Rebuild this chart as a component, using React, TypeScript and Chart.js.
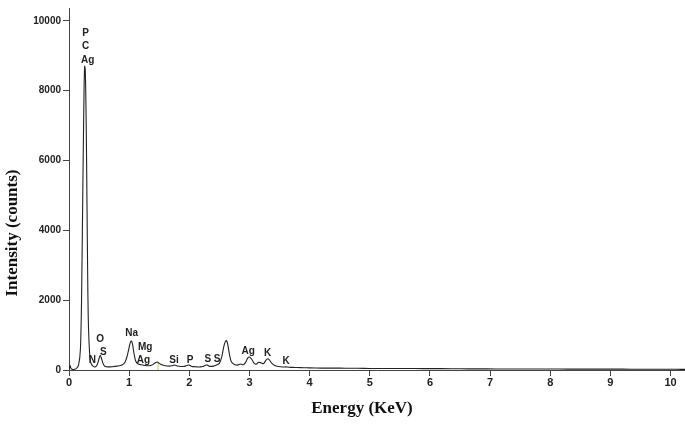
import React, { useEffect, useRef } from "react";
import { Chart, registerables } from "chart.js";

Chart.register(...registerables);

// Spectrum samples (Energy keV, Intensity counts)
const energy = [
  0.0, 0.02, 0.03, 0.05, 0.08, 0.12, 0.16, 0.19, 0.21, 0.23, 0.25, 0.26, 0.27, 0.28, 0.29, 0.3, 0.31, 0.32, 0.34, 0.36,
  0.4, 0.44, 0.47, 0.5, 0.52, 0.54, 0.57, 0.6, 0.66, 0.72, 0.8, 0.88, 0.93, 0.97, 1.0, 1.02, 1.04, 1.06, 1.08, 1.11,
  1.15, 1.2, 1.26, 1.32, 1.38, 1.43, 1.47, 1.5, 1.54, 1.6, 1.66, 1.71, 1.75, 1.8, 1.86, 1.92, 1.97, 2.0, 2.04, 2.1,
  2.16, 2.22, 2.27, 2.3, 2.34, 2.4, 2.45, 2.5, 2.54, 2.57, 2.6, 2.62, 2.64, 2.67, 2.7, 2.75, 2.8, 2.85, 2.9, 2.94,
  2.97, 3.0, 3.04, 3.08, 3.12, 3.15, 3.19, 3.23, 3.27, 3.3, 3.33, 3.37, 3.42, 3.48, 3.55, 3.6, 3.65, 3.72, 3.8, 3.9,
  4.0, 4.2, 4.4, 4.6, 4.8, 5.0, 5.3, 5.6, 5.9, 6.2, 6.5, 6.8, 7.1, 7.4, 7.7, 8.0, 8.3, 8.6, 8.9, 9.2, 9.5, 9.8, 10.1, 10.24,
];
const counts = [
  10, 120, 60, 20, 15, 40, 150, 600, 2200, 5200, 8000, 8700, 8600, 7800, 6400, 4600, 2800, 1500, 550, 220,
  110, 90, 160, 330, 420, 330, 170, 100, 90, 95, 110, 140, 220, 420, 650, 790, 830, 700, 480, 250,
  170, 150, 130, 120, 140, 200, 230, 190, 150, 120, 110, 120, 145, 115, 100, 105, 135, 140, 100, 95,
  85, 100, 135, 140, 105, 110, 140, 190, 380, 650, 820, 840, 720, 420, 230, 160, 140, 170, 150, 230,
  340, 370, 300, 190, 170, 220, 210, 180, 270, 320, 290, 200, 130, 100, 85, 90, 80, 75, 70, 65,
  60, 55, 55, 50, 48, 45, 45, 42, 40, 38, 35, 32, 30, 30, 28, 28, 26, 25, 24, 24, 22, 22, 20, 18,
];

// Marker line near 1.48 keV
const markerEnergy = [1.48, 1.48];
const markerCounts = [0, 220];

// Peak labels
const peakLabels = ["P", "C", "Ag", "O", "S", "N", "Na", "Mg", "Ag", "Si", "P", "S", "S", "Ag", "K", "K"];
const peakX = [0.275, 0.275, 0.31, 0.516, 0.57, 0.389, 1.04, 1.265, 1.236, 1.747, 2.013, 2.309, 2.46, 2.98, 3.3, 3.61];
const peakY = [9660, 9270, 8880, 868, 512, 280, 1045, 653, 280, 280, 280, 300, 317, 540, 485, 260];

const xTicks = [0, 1, 2, 3, 4, 5, 6, 7, 8, 9, 10];
const yTicks = [0, 2000, 4000, 6000, 8000, 10000];

const xTitle = "Energy (KeV)";
const yTitle = "Intensity (counts)";

export default function App() {
  const ref = useRef<HTMLCanvasElement | null>(null);

  useEffect(() => {
    document.body.style.margin = "0";
    const canvas = ref.current!;
    const labelPlugin = {
      id: "peakLabels",
      afterDatasetsDraw(chart: any) {
        const { ctx, scales } = chart;
        ctx.save();
        ctx.fillStyle = "#222";
        ctx.font = "bold 10px 'Liberation Sans', Arial, sans-serif";
        ctx.textAlign = "center";
        ctx.textBaseline = "middle";
        peakLabels.forEach((t, i) => {
          ctx.fillText(t, scales.x.getPixelForValue(peakX[i]), scales.y.getPixelForValue(peakY[i]));
        });
        // axis titles
        ctx.fillStyle = "#111";
        ctx.font = "bold 17px 'Liberation Serif', 'Times New Roman', serif";
        ctx.fillText(xTitle, 362, 409);
        ctx.save();
        ctx.translate(13, 233);
        ctx.rotate(-Math.PI / 2);
        ctx.font = "bold 17px 'Liberation Serif', 'Times New Roman', serif";
        ctx.fillText(yTitle, 0, 0);
        ctx.restore();
        ctx.restore();
      },
    };

    const chart = new Chart(canvas, {
      type: "line",
      data: {
        datasets: [
          {
            data: energy.map((x, i) => ({ x, y: counts[i] })),
            borderColor: "#222",
            borderWidth: 1.1,
            pointRadius: 0,
            tension: 0.3,
            fill: false,
          },
          {
            data: markerEnergy.map((x, i) => ({ x, y: markerCounts[i] })),
            borderColor: "#c8c860",
            borderWidth: 1,
            pointRadius: 0,
            fill: false,
          },
        ],
      },
      options: {
        animation: false,
        responsive: false,
        maintainAspectRatio: false,
        layout: { padding: 0 },
        plugins: { legend: { display: false }, tooltip: { enabled: false } },
        scales: {
          x: {
            type: "linear",
            min: 0,
            max: 10.24,
            afterBuildTicks: (s: any) => {
              s.ticks = xTicks.map((v) => ({ value: v }));
            },
            afterFit: (s: any) => {
              s.height = 55;
            },
            ticks: {
              color: "#222",
              font: { family: "'Liberation Sans', Arial, sans-serif", size: 11, weight: "bold" },
              padding: 0,
              maxRotation: 0,
              autoSkip: false,
              callback: (v: any) => String(v),
            },
            grid: { display: true, drawOnChartArea: false, drawTicks: true, tickLength: 6, color: "#444" },
            border: { display: true, color: "#444", width: 1 },
          },
          y: {
            type: "linear",
            min: 0,
            max: 10370,
            afterBuildTicks: (s: any) => {
              s.ticks = yTicks.map((v) => ({ value: v }));
            },
            afterFit: (s: any) => {
              s.width = 69;
            },
            ticks: {
              color: "#222",
              font: { family: "'Liberation Sans', Arial, sans-serif", size: 10, weight: "bold" },
              padding: 2,
              autoSkip: false,
              callback: (v: any) => String(v),
            },
            grid: { display: true, drawOnChartArea: false, drawTicks: true, tickLength: 6, color: "#444" },
            border: { display: true, color: "#444", width: 1 },
          },
        },
      },
      plugins: [labelPlugin],
    });
    return () => chart.destroy();
  }, []);

  return (
    <div style={{ position: "absolute", left: 0, top: 0, width: 685, height: 425, background: "#fff" }}>
      <canvas ref={ref} width={685} height={425} style={{ width: 685, height: 425 }} />
    </div>
  );
}
